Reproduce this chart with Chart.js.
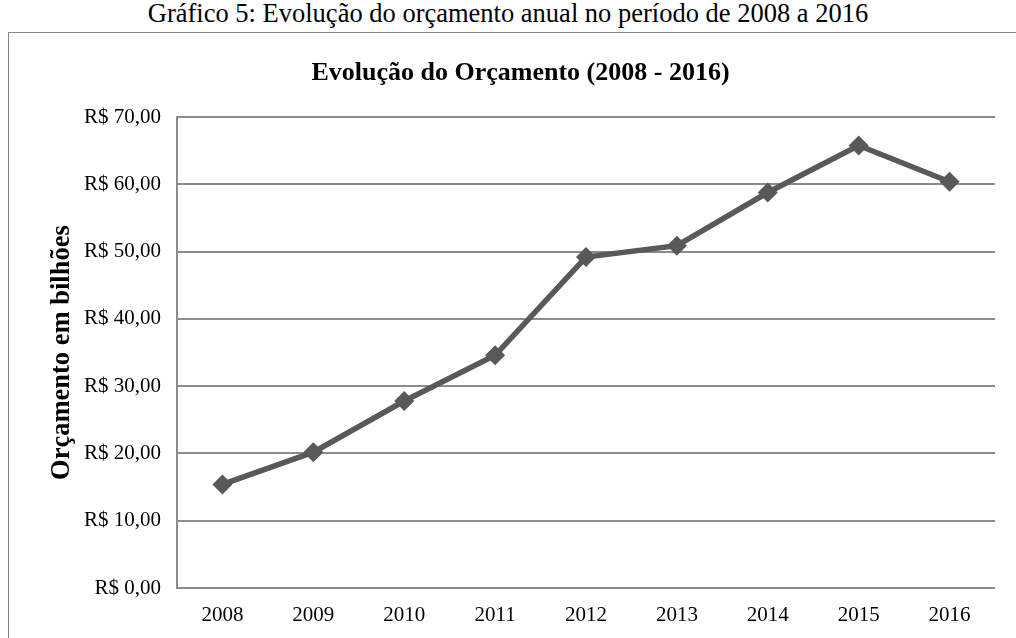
<!DOCTYPE html>
<html>
<head>
<meta charset="utf-8">
<script src="https://cdn.jsdelivr.net/npm/chart.js@4/dist/chart.umd.min.js"></script>
<style>
  body { margin: 0; background: #fff; width: 1016px; height: 638px; overflow: hidden; position: relative; }
  #caption { position: absolute; left: 0; top: 0; width: 1016px; text-align: center;
             font-family: "Liberation Serif", "Times New Roman", serif; font-size: 26.5px; line-height: 26px; color: #000; }
  #box { position: absolute; left: 8px; top: 32px; width: 1020px; height: 620px; border: 1px solid #868686; }
  #chartWrap { position: absolute; left: 0; top: 0; width: 1006px; height: 605px; }
</style>
</head>
<body>
<div id="caption">Gráfico 5: Evolução do orçamento anual no período de 2008 a 2016</div>
<div id="box">
  <div id="chartWrap"><canvas id="lineChart" width="1006" height="605"></canvas></div>
</div>
<script>
var anos = ['2008', '2009', '2010', '2011', '2012', '2013', '2014', '2015', '2016'];
var orcamento = [15.4, 20.2, 27.8, 34.6, 49.2, 50.9, 58.8, 65.8, 60.4];
var serif = '"Liberation Serif", "Times New Roman", serif';

function formatReal(v) {
    return 'R$ ' + v.toFixed(2).replace('.', ',');
}

var ctx = document.getElementById('lineChart').getContext('2d');
new Chart(ctx, {
    type: 'line',
    data: {
        labels: anos,
        datasets: [{
            label: 'Orçamento',
            data: orcamento,
            borderColor: '#595959',
            backgroundColor: '#595959',
            borderWidth: 5.5,
            pointStyle: 'rectRot',
            pointRadius: 10,
            pointBorderWidth: 0,
            tension: 0
        }]
    },
    options: {
        responsive: false,
        animation: false,
        layout: { padding: { left: 37, right: 20, top: 0, bottom: 0 } },
        plugins: {
            legend: { display: false },
            tooltip: { enabled: false },
            title: {
                display: true,
                text: 'Evolução do Orçamento (2008 - 2016)',
                color: '#000',
                font: { family: serif, size: 26, weight: 'bold' },
                padding: { top: 25, bottom: 28 }
            }
        },
        scales: {
            x: {
                offset: true,
                grid: { display: false, drawTicks: false },
                border: { display: false },
                ticks: { color: '#000', font: { family: serif, size: 21 }, padding: 15 },
                afterFit: function(scale) { scale.height = 50; }
            },
            y: {
                min: 0,
                max: 70,
                ticks: {
                    stepSize: 10,
                    color: '#000',
                    font: { family: serif, size: 21 },
                    padding: 16,
                    callback: function(v) { return formatReal(v); }
                },
                grid: { color: '#8c8c8c', lineWidth: 2, drawTicks: false },
                border: { display: true, color: '#8c8c8c', width: 2 },
                title: {
                    display: true,
                    text: 'Orçamento em bilhões',
                    color: '#000',
                    font: { family: serif, size: 26.5, weight: 'bold' },
                    padding: 0
                },
                afterFit: function(scale) { scale.width = 131; }
            }
        }
    }
});
</script>
</body>
</html>
